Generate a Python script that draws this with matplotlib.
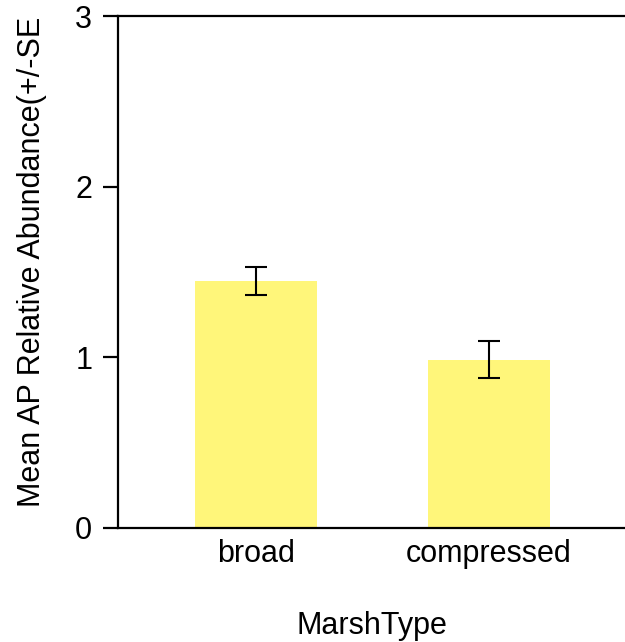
import matplotlib
matplotlib.use("Agg")
import matplotlib.pyplot as plt

categories = ["broad", "compressed"]
means = [1.445, 0.985]
se = [0.082, 0.110]
bar_color = "#FFF67A"

plt.rcParams['font.family'] = ['Liberation Sans', 'DejaVu Sans']

fig = plt.figure(figsize=(6.25, 6.42), dpi=100)
ax = fig.add_axes([0.1888, 0.178, 0.8112, 0.797])

x = list(range(len(categories)))
ax.bar(x, means, width=0.524, color=bar_color, zorder=2)
ax.errorbar(x, means, yerr=se, fmt='none', ecolor='black', elinewidth=1.5,
            capsize=8, capthick=1.5, zorder=3)

ax.set_xlim(-0.592, 1.584)
ax.set_ylim(0, 3)
ax.set_yticks([0, 1, 2, 3])
ax.set_xticks(x)
ax.set_xticklabels(categories)

for s in ['left', 'bottom', 'top']:
    ax.spines[s].set_linewidth(1.6)
    ax.spines[s].set_color('black')
ax.spines['right'].set_visible(False)

ax.tick_params(axis='y', length=10.5, width=1.6, labelsize=22, pad=8)
ax.tick_params(axis='x', length=0, labelsize=22, pad=8)

ax.set_ylabel("Mean AP Relative Abundance(+/-SE", fontsize=22, labelpad=20)
ax.yaxis.label.set_y(0.52)
ax.set_xlabel("MarshType", fontsize=22, labelpad=30)

fig.savefig("out.png", dpi=100)
